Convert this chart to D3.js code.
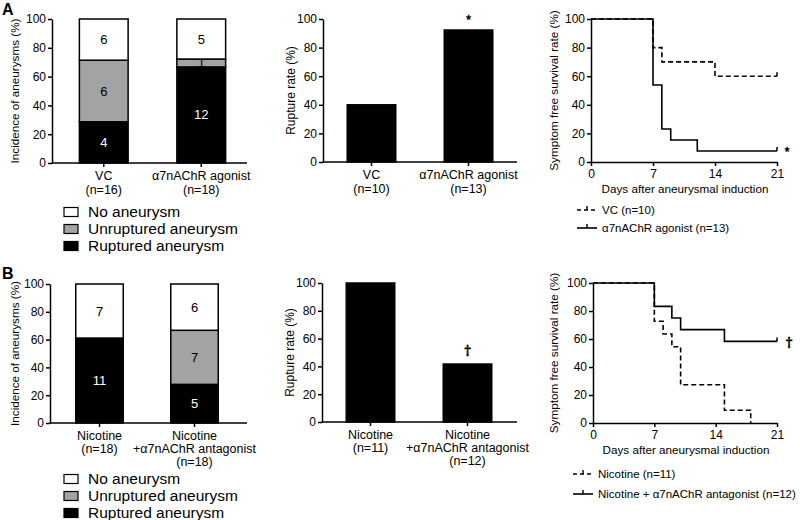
<!DOCTYPE html>
<html><head><meta charset="utf-8">
<script src="https://cdn.jsdelivr.net/npm/d3@7"></script>
<style>
body{margin:0;background:#fff;}
svg{display:block;font-family:"Liberation Sans",Arial,sans-serif;}
</style></head>
<body>
<svg id="chart" width="800" height="520"></svg>
<script>
// ---------- DATA ----------
const stackA_categories = [["VC","(n=16)"],["α7nAChR agonist","(n=18)"]];
const stackA_ruptured = [28.6, 66.7];
const stackA_unruptured = [42.8, 5.5];
const stackA_none = [28.6, 27.8];
const stackA_counts = [[4,6,6],[12,1,5]];

const stackB_categories = [["Nicotine","(n=18)"],["Nicotine","+α7nAChR antagonist","(n=18)"]];
const stackB_ruptured = [61.1, 27.8];
const stackB_unruptured = [0, 38.9];
const stackB_none = [38.9, 33.3];
const stackB_counts = [[11,null,7],[5,7,6]];

const stackLegend = ["No aneurysm","Unruptured aneurysm","Ruptured aneurysm"];

const rateA_categories = [["VC","(n=10)"],["α7nAChR agonist","(n=13)"]];
const rateA_values = [40, 92.3];
const rateA_marks = [null, "*"];

const rateB_categories = [["Nicotine","(n=11)"],["Nicotine","+α7nAChR antagonist","(n=12)"]];
const rateB_values = [100, 41.7];
const rateB_marks = [null, "†"];

const survA_vc_days = [0,7,8,14,21];
const survA_vc_rate = [100,80,70,60,60];
const survA_ag_days = [0,7,8,9,12,21];
const survA_ag_rate = [100,53.8,23.1,15.4,7.7,7.7];
const survA_legend = ["VC (n=10)","α7nAChR agonist (n=13)"];

const survB_nic_days = [0,7,8,9,10,15,18];
const survB_nic_rate = [100,72.7,63.6,54.5,27.3,9.1,0];
const survB_ant_days = [0,7,9,10,15,21];
const survB_ant_rate = [100,83.3,75,66.7,58.3,58.3];
const survB_legend = ["Nicotine (n=11)","Nicotine + α7nAChR antagonist (n=12)"];

const yTicks = [0,20,40,60,80,100];
const dayTicks = [0,7,14,21];

// ---------- DRAW ----------
const svg = d3.select("#chart");
const AX = 1.5;
const MARK_FONT = "'Noto Sans','Open Sans',Roboto,Lato,sans-serif";

function yAxis(g, y, x0, title, titleX, fs){
  const ax = g.append("g").attr("transform",`translate(${x0},0)`)
    .call(d3.axisLeft(y).tickValues(yTicks).tickSize(4).tickSizeOuter(0).tickPadding(2));
  ax.select(".domain").attr("stroke-width",AX);
  ax.selectAll(".tick line").attr("stroke-width",AX);
  ax.selectAll(".tick text").attr("font-size",12).attr("font-family","Liberation Sans, Arial").attr("fill","#000");
  const yc = (y(0)+y(100))/2;
  g.append("text").attr("transform",`translate(${titleX},${yc}) rotate(-90)`)
    .attr("text-anchor","middle").attr("font-size",fs||12).text(title);
}

function xBandAxis(g, x, y0, x0, x1, cats, lineH){
  g.append("line").attr("x1",x0).attr("x2",x1).attr("y1",y0).attr("y2",y0)
    .attr("stroke","#000").attr("stroke-width",AX);
  x.domain().forEach((d,i)=>{
    const cx = x(d)+x.bandwidth()/2;
    g.append("line").attr("x1",cx).attr("x2",cx).attr("y1",y0).attr("y2",y0+4)
      .attr("stroke","#000").attr("stroke-width",AX);
    const t = g.append("text").attr("text-anchor","middle").attr("font-size",12.5);
    cats[i].forEach((s,j)=>{
      t.append("tspan").attr("x",cx).attr("y",y0+17+j*lineH).text(s);
    });
  });
}

function markText(g, x, y, size, font, txt){
  g.append("text").attr("x",x).attr("y",y).attr("text-anchor","middle")
    .attr("font-size",size).style("font-family",font)
    .attr("fill","#000").attr("stroke","#000").attr("stroke-width",0.5).text(txt);
}

function stackedPanel(opt){
  const g = svg.append("g");
  const y = d3.scaleLinear().domain([0,100]).range([opt.y0,opt.y100]);
  const x = d3.scaleBand().domain(opt.cats.map((c,i)=>i)).range(opt.xr).paddingInner(0.5).paddingOuter(0.25);
  const colors = ["#000000","#a3a3a3","#ffffff"];
  const textCol = ["#fff","#000","#000"];
  opt.cats.forEach((c,i)=>{
    const vals = [opt.rup[i], opt.unr[i], opt.none[i]];
    let acc = 0;
    vals.forEach((v,k)=>{
      if(v<=0){return;}
      const yTop = y(acc+v), yBot = y(acc);
      g.append("rect").attr("x",x(i)).attr("width",x.bandwidth())
        .attr("y",yTop).attr("height",yBot-yTop)
        .attr("fill",colors[k]).attr("stroke","#000").attr("stroke-width",AX);
      const n = opt.counts[i][k];
      if(n!==null){
        g.append("text").attr("x",x(i)+x.bandwidth()/2).attr("y",(yTop+yBot)/2+4.5)
          .attr("text-anchor","middle").attr("font-size",13).attr("fill",textCol[k]).text(n);
      }
      acc += v;
    });
  });
  yAxis(g,y,opt.ax,"Incidence of aneurysms (%)",opt.titleX,11.7);
  xBandAxis(g,x,opt.y0,opt.ax,opt.axEnd,opt.cats,opt.lineH);
  const lc = ["#ffffff","#a3a3a3","#000000"];
  stackLegend.forEach((s,k)=>{
    const ly = opt.legY[k];
    g.append("rect").attr("x",64).attr("y",ly-4.5).attr("width",14).attr("height",9)
      .attr("fill",lc[k]).attr("stroke","#000").attr("stroke-width",1.2);
    g.append("text").attr("x",88).attr("y",ly+5).attr("font-size",15.5).text(s);
  });
}

function ratePanel(opt){
  const g = svg.append("g");
  const y = d3.scaleLinear().domain([0,100]).range([opt.y0,opt.y100]);
  const x = d3.scaleBand().domain(opt.cats.map((c,i)=>i)).range(opt.xr).paddingInner(0.5).paddingOuter(0.25);
  opt.vals.forEach((v,i)=>{
    g.append("rect").attr("x",x(i)).attr("width",x.bandwidth())
      .attr("y",y(v)).attr("height",y(0)-y(v))
      .attr("fill","#000").attr("stroke","#000").attr("stroke-width",AX);
    if(opt.marks[i]){
      markText(g, x(i)+x.bandwidth()/2, y(v)-opt.markOff, opt.markSize, opt.markFont, opt.marks[i]);
    }
  });
  yAxis(g,y,opt.ax,"Rupture rate (%)",opt.titleX);
  xBandAxis(g,x,opt.y0,opt.ax,opt.axEnd,opt.cats,opt.lineH);
}

function survPanel(opt){
  const g = svg.append("g");
  const y = d3.scaleLinear().domain([0,100]).range([opt.y0,opt.y100]);
  const x = d3.scaleLinear().domain([0,21]).range([opt.ax,opt.axEnd]);
  yAxis(g,y,opt.ax,"Symptom free survival rate (%)",opt.titleX,11.7);
  const xa = g.append("g").attr("transform",`translate(0,${opt.y0})`)
    .call(d3.axisBottom(x).tickValues(dayTicks).tickSize(4).tickSizeOuter(0).tickPadding(3));
  xa.select(".domain").attr("stroke-width",AX);
  xa.selectAll(".tick line").attr("stroke-width",AX);
  xa.selectAll(".tick text").attr("font-size",12).attr("font-family","Liberation Sans, Arial").attr("fill","#000");
  g.append("text").attr("x",(opt.ax+opt.axEnd)/2+1).attr("y",opt.y0+31)
    .attr("text-anchor","middle").attr("font-size",11.7).text("Days after aneurysmal induction");
  const line = d3.line().x(d=>x(d[0])).y(d=>y(d[1])).curve(d3.curveStepAfter);
  opt.series.forEach(s=>{
    const pts = s.days.map((d,i)=>[d,s.rate[i]]);
    g.append("path").attr("d",line(pts)).attr("fill","none").attr("stroke","#000")
      .attr("stroke-width",1.6).attr("stroke-dasharray",s.dash?"5,3":null);
    if(s.censor){
      const last = pts[pts.length-1];
      g.append("line").attr("x1",x(last[0])).attr("x2",x(last[0]))
        .attr("y1",y(last[1])).attr("y2",y(last[1])-4).attr("stroke","#000").attr("stroke-width",1.5);
    }
  });
  opt.series.forEach((s,k)=>{
    const ly = opt.legY[k];
    g.append("line").attr("x1",opt.legX).attr("x2",opt.legX+20).attr("y1",ly).attr("y2",ly)
      .attr("stroke","#000").attr("stroke-width",1.6).attr("stroke-dasharray",s.dash?"4,3":null);
    g.append("line").attr("x1",opt.legX+10).attr("x2",opt.legX+10).attr("y1",ly).attr("y2",ly-4)
      .attr("stroke","#000").attr("stroke-width",1.4);
    g.append("text").attr("x",opt.legX+25).attr("y",ly+4.3).attr("font-size",11.5).text(s.label);
  });
  markText(g, opt.markX, opt.markY, opt.markSize, opt.markFont, opt.mark);
}

svg.append("text").attr("x",2).attr("y",15).attr("font-size",16).attr("font-weight","bold").text("A");
svg.append("text").attr("x",2).attr("y",279).attr("font-size",16).attr("font-weight","bold").text("B");

stackedPanel({cats:stackA_categories,rup:stackA_ruptured,unr:stackA_unruptured,none:stackA_none,counts:stackA_counts,
  y0:163,y100:19,xr:[55,250],ax:52,axEnd:247,titleX:19,lineH:14,legY:[212,229,246]});
stackedPanel({cats:stackB_categories,rup:stackB_ruptured,unr:stackB_unruptured,none:stackB_none,counts:stackB_counts,
  y0:423,y100:284,xr:[52,242],ax:50,axEnd:247,titleX:19,lineH:13,legY:[479,496,513]});

ratePanel({cats:rateA_categories,vals:rateA_values,marks:rateA_marks,y0:162,y100:19,xr:[323,517],ax:323,axEnd:517,
  titleX:295,lineH:14,markOff:6,markSize:12,markFont:"'Liberation Sans',Arial,sans-serif"});
ratePanel({cats:rateB_categories,vals:rateB_values,marks:rateB_marks,y0:422,y100:283,xr:[322,516],ax:322,axEnd:517,
  titleX:294,lineH:13,markOff:8,markSize:15,markFont:MARK_FONT});

survPanel({y0:162,y100:19,ax:591,axEnd:777,titleX:558,legX:577,legY:[210,228],
  series:[{days:survA_vc_days,rate:survA_vc_rate,dash:true,censor:true,label:survA_legend[0]},
          {days:survA_ag_days,rate:survA_ag_rate,dash:false,censor:true,label:survA_legend[1]}],
  mark:"*",markX:787,markY:156,markSize:12,markFont:"'Liberation Sans',Arial,sans-serif"});
survPanel({y0:423,y100:283,ax:593,axEnd:777,titleX:558,legX:573,legY:[474,494],
  series:[{days:survB_nic_days,rate:survB_nic_rate,dash:true,censor:false,label:survB_legend[0]},
          {days:survB_ant_days,rate:survB_ant_rate,dash:false,censor:true,label:survB_legend[1]}],
  mark:"†",markX:789,markY:348,markSize:15,markFont:MARK_FONT});
</script>
</body></html>
